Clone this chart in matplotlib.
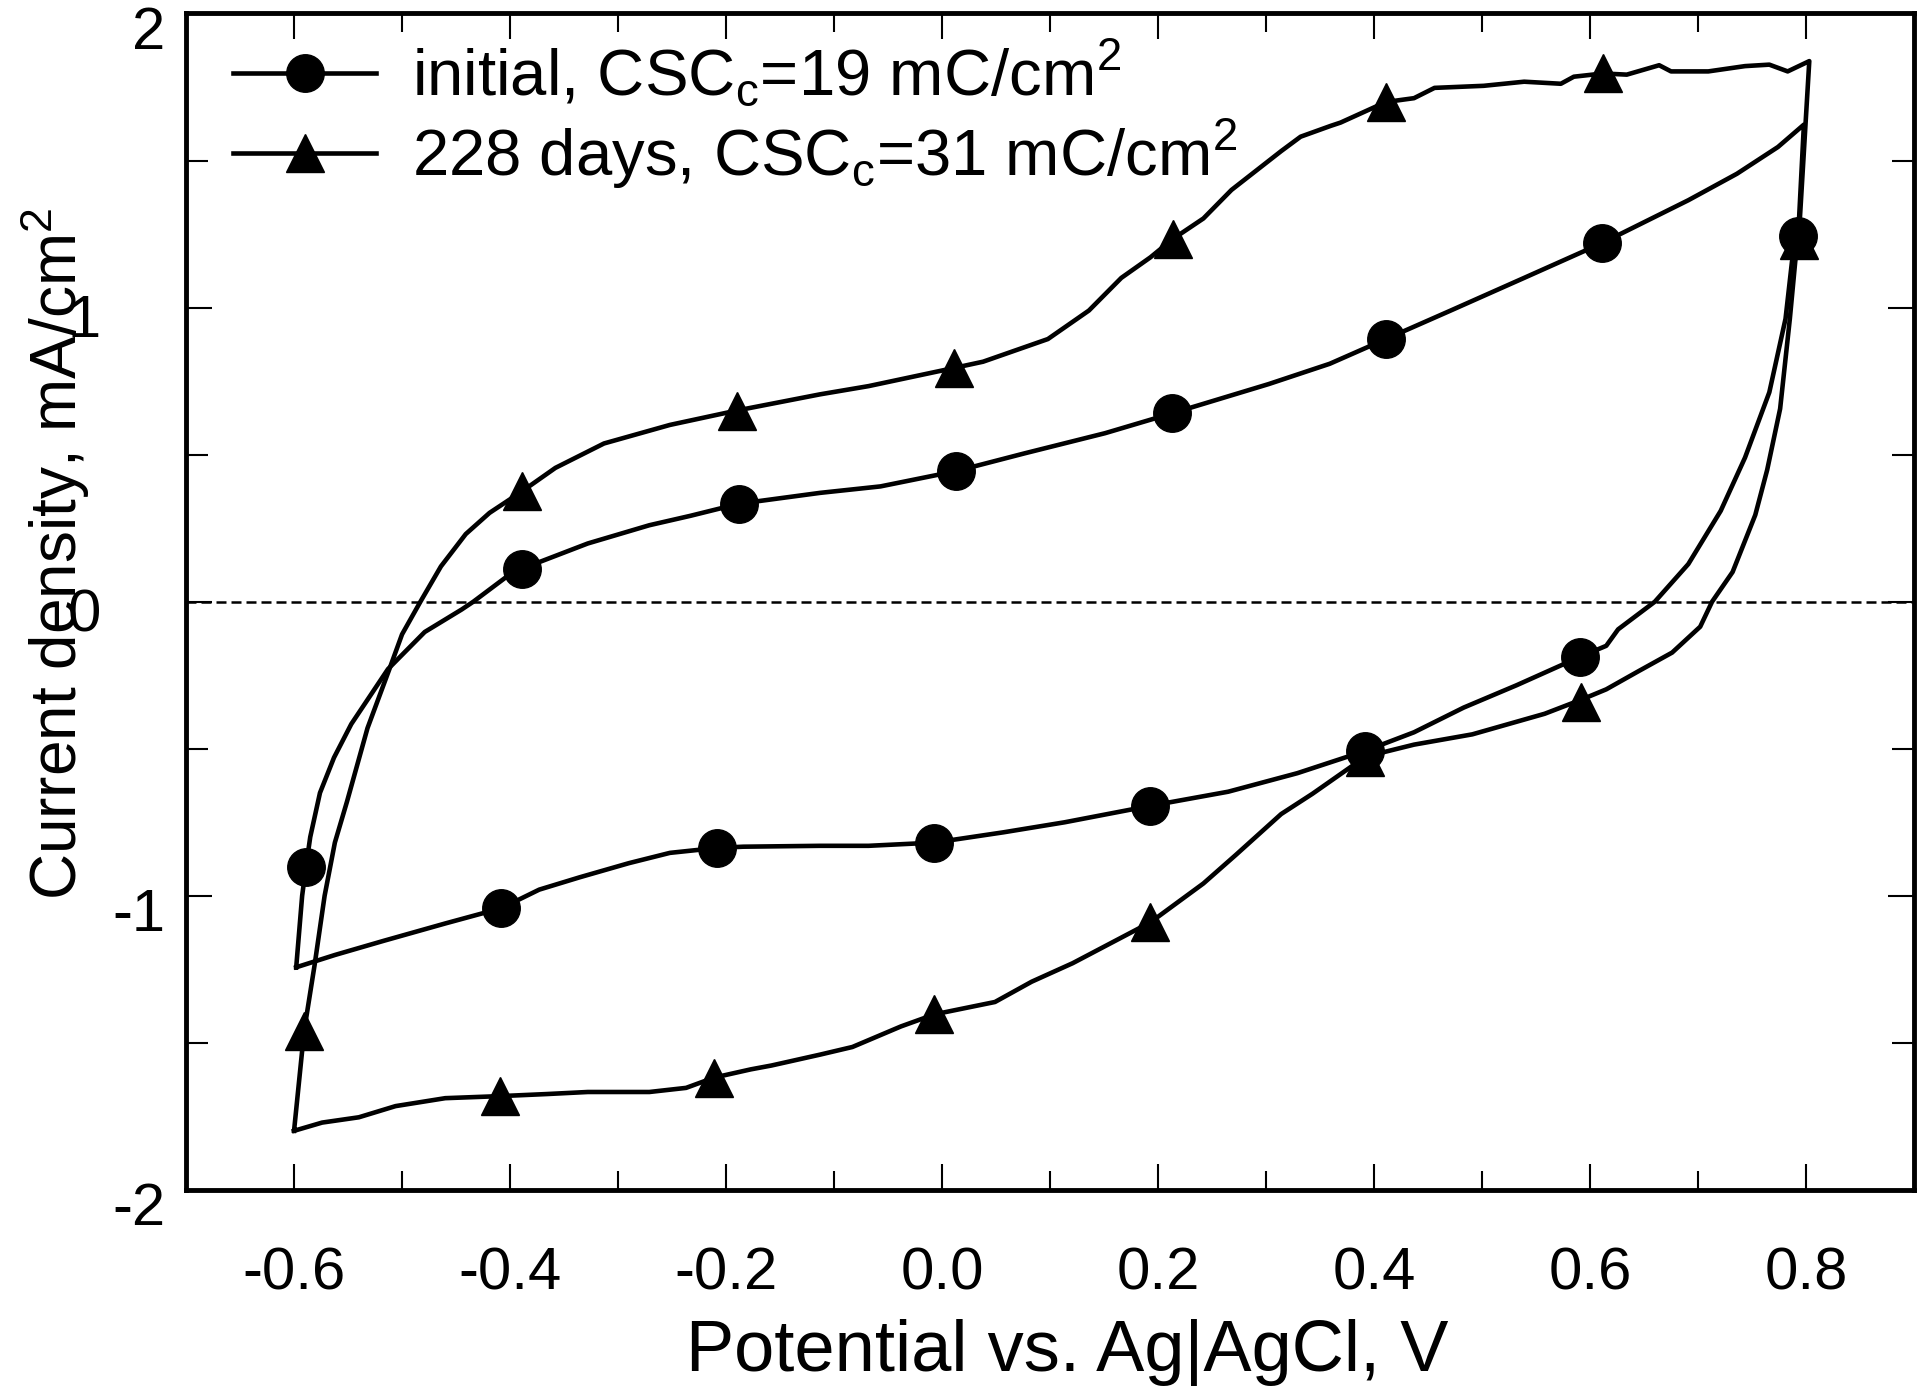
import numpy as np
import matplotlib
matplotlib.use('Agg')
import matplotlib.pyplot as plt
from matplotlib.transforms import ScaledTranslation

plt.rcParams['font.family'] = ['Liberation Sans', 'DejaVu Sans']
plt.rcParams['mathtext.fontset'] = 'custom'
plt.rcParams['mathtext.rm'] = 'Liberation Sans'
plt.rcParams['axes.unicode_minus'] = False

# initial CV loop (potential V, current density mA/cm2)
init_v = [-0.598, -0.5925, -0.589, -0.585, -0.576, -0.563, -0.547, -0.513, -0.479, -0.445, -0.434,
          -0.4035, -0.389, -0.328, -0.271, -0.233, -0.188, -0.113, -0.057, 0.013, 0.076,
          0.151, 0.2125, 0.3025, 0.359, 0.411, 0.471, 0.539, 0.611, 0.691, 0.736, 0.774, 0.798,
          0.7927, 0.787, 0.781, 0.766, 0.7435, 0.721, 0.691, 0.660, 0.626, 0.615, 0.591,
          0.532, 0.483, 0.437, 0.392, 0.329, 0.265, 0.193, 0.1135, 0.057, -0.007, -0.068,
          -0.113, -0.184, -0.208, -0.252, -0.290, -0.3355, -0.373, -0.408, -0.460, -0.517,
          -0.562, -0.598]
init_j = [-1.243, -1.0, -0.902, -0.80, -0.65, -0.53, -0.416, -0.229, -0.103, -0.027, 0.0,
          0.084, 0.112, 0.198, 0.260, 0.292, 0.333, 0.370, 0.392, 0.444, 0.504,
          0.573, 0.640, 0.740, 0.809, 0.893, 0.990, 1.101, 1.219, 1.365, 1.455, 1.546, 1.622,
          1.243, 1.157, 0.962, 0.712, 0.490, 0.309, 0.128, 0.0, -0.094, -0.150, -0.187,
          -0.284, -0.360, -0.444, -0.507, -0.583, -0.646, -0.694, -0.750, -0.784, -0.819, -0.830,
          -0.830, -0.833, -0.837, -0.854, -0.889, -0.937, -0.979, -1.042, -1.094, -1.153,
          -1.201, -1.243]
init_mark_v = [-0.589, -0.389, -0.188, 0.013, 0.2125, 0.411, 0.611, 0.793,
               0.591, 0.392, 0.193, -0.007, -0.208, -0.408]
init_mark_j = [-0.902, 0.112, 0.333, 0.444, 0.640, 0.893, 1.219, 1.243,
               -0.187, -0.507, -0.694, -0.819, -0.837, -1.042]

# 228 days CV loop
aged_v = [-0.600, -0.5906, -0.581, -0.5717, -0.5622, -0.551, -0.532, -0.511, -0.500, -0.483,
          -0.464, -0.441, -0.419, -0.389, -0.358, -0.313, -0.252, -0.190, -0.113, -0.068,
          0.0115, 0.038, 0.098, 0.136, 0.166, 0.193, 0.2136, 0.242, 0.268, 0.314, 0.332,
          0.360, 0.369, 0.411, 0.437, 0.456, 0.5015, 0.539, 0.573, 0.585, 0.612, 0.634,
          0.664, 0.675, 0.7095, 0.7435, 0.766, 0.783, 0.803,
          0.7935, 0.790, 0.785, 0.776, 0.764, 0.753, 0.732, 0.713, 0.702, 0.676, 0.645,
          0.615, 0.592, 0.558, 0.491, 0.437, 0.392, 0.343, 0.314, 0.272, 0.242, 0.193,
          0.121, 0.083, 0.049, -0.007, -0.038, -0.083, -0.113, -0.158, -0.177, -0.211,
          -0.237, -0.271, -0.328, -0.366, -0.409, -0.460, -0.506, -0.540, -0.574, -0.600]
aged_j = [-1.799, -1.458, -1.236, -1.0, -0.819, -0.680, -0.430, -0.222, -0.111, 0.0,
          0.120, 0.230, 0.302, 0.375, 0.455, 0.538, 0.601, 0.650, 0.705, 0.733,
          0.795, 0.816, 0.893, 0.990, 1.101, 1.171, 1.233, 1.303, 1.400, 1.532, 1.581,
          1.618, 1.629, 1.699, 1.712, 1.747, 1.754, 1.768, 1.761, 1.785, 1.796, 1.792,
          1.824, 1.803, 1.803, 1.821, 1.826, 1.803, 1.838,
          1.254, 1.157, 0.962, 0.656, 0.448, 0.295, 0.101, 0.0, -0.085, -0.173, -0.236,
          -0.298, -0.333, -0.381, -0.451, -0.486, -0.527, -0.653, -0.722, -0.861, -0.958, -1.090,
          -1.229, -1.292, -1.361, -1.403, -1.444, -1.514, -1.540, -1.577, -1.590, -1.618,
          -1.653, -1.667, -1.667, -1.674, -1.681, -1.688, -1.715, -1.753, -1.771, -1.799]
aged_mark_v = [-0.5906, -0.389, -0.190, 0.0115, 0.2136, 0.411, 0.612, 0.7935,
               0.592, 0.392, 0.193, -0.007, -0.211, -0.409]
aged_mark_j = [-1.458, 0.375, 0.650, 0.795, 1.233, 1.699, 1.796, 1.23,
               -0.34, -0.527, -1.09, -1.403, -1.618, -1.681]

labels = [r'initial, CSC$_\mathregular{c}$=19 mC/cm$^\mathregular{2}$',
          r'228 days, CSC$_\mathregular{c}$=31 mC/cm$^\mathregular{2}$']

xticks = [-0.6, -0.4, -0.2, 0.0, 0.2, 0.4, 0.6, 0.8]
xtick_labels = ['-0.6', '-0.4', '-0.2', '0.0', '0.2', '0.4', '0.6', '0.8']
yticks = [-2, -1, 0, 1, 2]

fig = plt.figure(figsize=(19.2, 13.88), dpi=100)
ax = fig.add_axes([0.0969, 0.1427, 0.9, 0.8476])

lw = 3.3
ms = 27
ax.axhline(0, color='k', lw=1.8, ls=(0, (4, 2)))
ax.plot(init_v, init_j, 'k-', lw=lw)
ax.plot(init_mark_v, init_mark_j, 'ko', ms=ms, ls='none')
ax.plot(aged_v, aged_j, 'k-', lw=lw)
ax.plot(aged_mark_v, aged_mark_j, 'k^', ms=ms, ls='none')

# legend proxies
h1, = ax.plot([], [], 'k-o', lw=lw, ms=ms)
h2, = ax.plot([], [], 'k-^', lw=lw, ms=ms)
ax.legend([h1, h2], labels, loc='upper left', bbox_to_anchor=(0.027, 0.98),
          frameon=False, fontsize=47, handlelength=2.2, handletextpad=0.55,
          borderpad=0, borderaxespad=0, labelspacing=0.12)

ax.set_xlim(-0.7, 0.9)
ax.set_ylim(-2, 2)
ax.set_xticks(xticks)
ax.set_xticklabels(xtick_labels)
ax.set_xticks(np.arange(-0.7, 0.91, 0.1), minor=True)
ax.set_yticks(yticks)
ax.set_yticklabels(['-2', '-1', '', '', '2'])
ax.set_yticks([-1.5, -0.5, 0.5, 1.5], minor=True)

ax.tick_params(which='both', direction='in', top=True, right=True, width=1.5)
ax.tick_params(axis='x', which='major', length=19, labelsize=43, pad=41)
ax.tick_params(axis='x', which='minor', length=14)
ax.tick_params(axis='y', which='major', length=19, labelsize=43, pad=15)
ax.tick_params(axis='y', which='minor', length=16)
for s in ax.spines.values():
    s.set_linewidth(3.5)

# y tick labels sit a little below their ticks in the original
shift = ScaledTranslation(0, -10 / 72, fig.dpi_scale_trans)
for t in ax.get_yticklabels():
    t.set_transform(t.get_transform() + shift)

# the 0 and 1 tick labels sit under the y label in the original
ax.text(-0.059, 0, '0', transform=ax.get_yaxis_transform() + shift,
        ha='center', va='center', fontsize=43)
ax.text(-0.059, 1, '1', transform=ax.get_yaxis_transform() + shift,
        ha='center', va='center', fontsize=43)

ax.set_xlabel('Potential vs. Ag|AgCl, V', fontsize=52, va='center')
ax.xaxis.set_label_coords(0.51, -0.1385)
ax.set_ylabel(r'Current density, mA/cm$^\mathregular{2}$', fontsize=46, va='center')
ax.yaxis.set_label_coords(-0.0758, 0.541)

fig.savefig('out.png', dpi=100)
